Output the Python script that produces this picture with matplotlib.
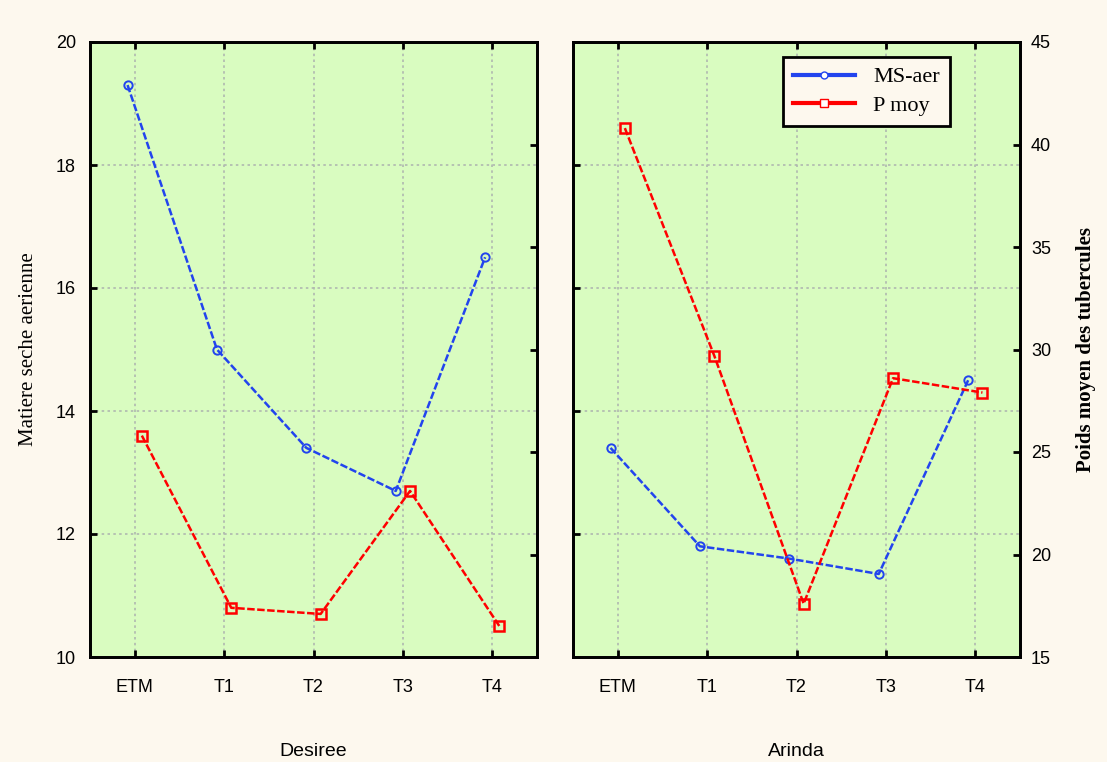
import numpy as np
import matplotlib
matplotlib.use("Agg")
import matplotlib.pyplot as plt
from matplotlib.lines import Line2D

plt.rcParams['font.family'] = 'Liberation Sans'
plt.rcParams['font.size'] = 12

# =========================================================
# data
# =========================================================
categories = ["ETM", "T1", "T2", "T3", "T4"]
varieties = ["Desiree", "Arinda"]

ms_aer_desiree = [19.3, 15.0, 13.4, 12.7, 16.5]
ms_aer_arinda = [13.4, 11.8, 11.6, 11.35, 14.5]

p_moy_desiree = [25.8, 17.4, 17.1, 23.1, 16.5]
p_moy_arinda = [40.8, 29.7, 17.6, 28.6, 27.9]

left_ticks = [10, 12, 14, 16, 18, 20]
right_ticks = [15, 20, 25, 30, 35, 40, 45]

# =========================================================
bg_fig = "#fdf8ee"
bg_ax = "#d9fcc0"
blue = "#2244ee"
red = "#ff0000"

W, H = 1107, 762
fig = plt.figure(figsize=(W / 100, H / 100), dpi=100, facecolor=bg_fig)


def px_box(x0, y0, x1, y1):
    return [x0 / W, 1 - y1 / H, (x1 - x0) / W, (y1 - y0) / H]


def style_axes(ax):
    for s in ax.spines.values():
        s.set_linewidth(2)
        s.set_color("black")
    ax.tick_params(direction="in", length=5, width=2, top=True, bottom=True)


x = np.arange(len(categories))
panels = [
    (px_box(90, 42, 537, 657), ms_aer_desiree, p_moy_desiree, varieties[0]),
    (px_box(573, 42, 1020, 657), ms_aer_arinda, p_moy_arinda, varieties[1]),
]

for k, (box, ms, pm, name) in enumerate(panels):
    ax = fig.add_axes(box)
    ax.set_facecolor(bg_ax)
    axr = ax.twinx()

    ax.set_xlim(-0.5, len(categories) - 0.5)
    ax.set_ylim(10, 20)
    axr.set_ylim(15, 45)
    ax.set_yticks(left_ticks)
    axr.set_yticks(right_ticks)
    ax.set_xticks(x)
    ax.set_xticklabels(categories, fontsize=13)

    # dotted grid
    for yv in left_ticks[1:-1]:
        ax.axhline(yv, color="#b0b8b0", lw=1.2, ls=(0, (1.5, 2)), zorder=0)
    for xv in x:
        ax.axvline(xv, color="#b0b8b0", lw=1.2, ls=(0, (1.5, 2)), zorder=0)

    ax.plot(x - 0.08, ms, color=blue, lw=1.8, ls=(0, (3, 1)),
            marker="o", ms=6, mfc="none", mec=blue, mew=1.4, zorder=3)
    axr.plot(x + 0.08, pm, color=red, lw=1.8, ls=(0, (3, 1)),
             marker="s", ms=7, mfc="none", mec=red, mew=1.8, zorder=3)

    style_axes(ax)
    style_axes(axr)
    ax.tick_params(axis="x", pad=16)

    if k == 0:
        ax.tick_params(axis="y", labelsize=13, pad=10)
        ax.set_ylabel("Matiere seche aerienne", family="Liberation Serif",
                      fontsize=15, labelpad=13)
        axr.tick_params(labelright=False)
    else:
        ax.tick_params(labelleft=False)
        axr.tick_params(labelsize=13, pad=8)
        axr.set_ylabel("Poids moyen des tubercules", family="Liberation Serif",
                       fontsize=15, fontweight="bold", labelpad=18)
        handles = [
            Line2D([], [], color=blue, lw=3, marker="o", ms=5, mfc="white", mec=blue),
            Line2D([], [], color=red, lw=3, marker="s", ms=6, mfc="white", mec=red),
        ]
        leg = axr.legend(handles, ["MS-aer", "P moy"], loc="upper right",
                         bbox_to_anchor=(0.843, 0.976), borderaxespad=0,
                         frameon=True, fancybox=False,
                         prop={"family": "Liberation Serif", "size": 16},
                         handlelength=2.8, borderpad=0.45, labelspacing=0.35)
        leg.get_frame().set_edgecolor("black")
        leg.get_frame().set_linewidth(2)
        leg.get_frame().set_facecolor(bg_fig)
        leg.get_frame().set_alpha(1)

    ax.set_xlabel(name, family="Liberation Sans", fontsize=14, labelpad=34)

fig.savefig("out.png", dpi=100, facecolor=bg_fig)
